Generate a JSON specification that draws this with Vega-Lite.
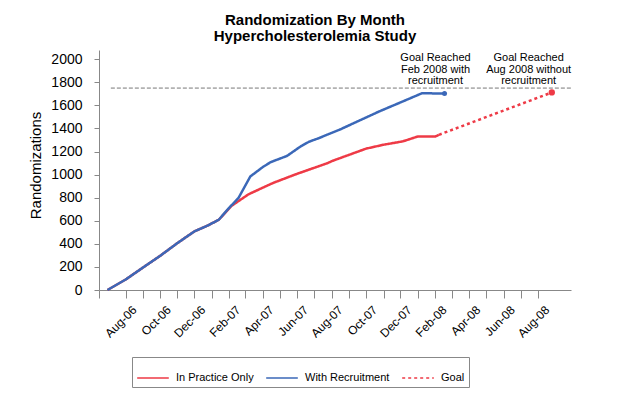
{
  "$schema": "https://vega.github.io/schema/vega-lite/v6.json",
  "width": 472,
  "height": 240,
  "autosize": "none",
  "padding": {"left": 99, "top": 50, "right": 60, "bottom": 105},
  "background": "white",
  "config": {
    "view": {"stroke": null},
    "font": "Liberation Sans"
  },
  "title": {
    "text": ["Randomization By Month", "Hypercholesterolemia Study"],
    "fontSize": 15,
    "fontWeight": "bold",
    "font": "Liberation Sans",
    "color": "black",
    "anchor": "middle",
    "frame": "group",
    "dx": -20,
    "offset": -9,
    "baseline": "bottom",
    "lineHeight": 16
  },
  "datasets": {
    "series": [
      {"series": "With Recruitment", "date": "2006-06-30", "value": 0},
      {"series": "With Recruitment", "date": "2006-08-01", "value": 90},
      {"series": "With Recruitment", "date": "2006-09-01", "value": 195},
      {"series": "With Recruitment", "date": "2006-10-01", "value": 295},
      {"series": "With Recruitment", "date": "2006-11-01", "value": 407},
      {"series": "With Recruitment", "date": "2006-12-01", "value": 508},
      {"series": "With Recruitment", "date": "2006-12-23", "value": 555},
      {"series": "With Recruitment", "date": "2007-01-13", "value": 608},
      {"series": "With Recruitment", "date": "2007-02-01", "value": 715},
      {"series": "With Recruitment", "date": "2007-02-17", "value": 797},
      {"series": "With Recruitment", "date": "2007-03-10", "value": 984},
      {"series": "With Recruitment", "date": "2007-04-01", "value": 1065},
      {"series": "With Recruitment", "date": "2007-04-15", "value": 1108},
      {"series": "With Recruitment", "date": "2007-05-14", "value": 1162},
      {"series": "With Recruitment", "date": "2007-06-07", "value": 1244},
      {"series": "With Recruitment", "date": "2007-06-22", "value": 1285},
      {"series": "With Recruitment", "date": "2007-07-10", "value": 1317},
      {"series": "With Recruitment", "date": "2007-07-24", "value": 1346},
      {"series": "With Recruitment", "date": "2007-08-15", "value": 1389},
      {"series": "With Recruitment", "date": "2007-10-24", "value": 1547},
      {"series": "With Recruitment", "date": "2007-12-05", "value": 1634},
      {"series": "With Recruitment", "date": "2008-01-08", "value": 1705},
      {"series": "With Recruitment", "date": "2008-02-17", "value": 1703},
      {"series": "In Practice Only", "date": "2006-06-30", "value": 0},
      {"series": "In Practice Only", "date": "2006-08-01", "value": 90},
      {"series": "In Practice Only", "date": "2006-09-01", "value": 195},
      {"series": "In Practice Only", "date": "2006-10-01", "value": 295},
      {"series": "In Practice Only", "date": "2006-11-01", "value": 407},
      {"series": "In Practice Only", "date": "2006-12-01", "value": 508},
      {"series": "In Practice Only", "date": "2006-12-23", "value": 555},
      {"series": "In Practice Only", "date": "2007-01-13", "value": 608},
      {"series": "In Practice Only", "date": "2007-02-05", "value": 730},
      {"series": "In Practice Only", "date": "2007-03-07", "value": 830},
      {"series": "In Practice Only", "date": "2007-04-19", "value": 927},
      {"series": "In Practice Only", "date": "2007-05-28", "value": 1000},
      {"series": "In Practice Only", "date": "2007-06-05", "value": 1014},
      {"series": "In Practice Only", "date": "2007-07-25", "value": 1100},
      {"series": "In Practice Only", "date": "2007-08-03", "value": 1120},
      {"series": "In Practice Only", "date": "2007-10-01", "value": 1225},
      {"series": "In Practice Only", "date": "2007-11-01", "value": 1259},
      {"series": "In Practice Only", "date": "2007-12-05", "value": 1288},
      {"series": "In Practice Only", "date": "2008-01-01", "value": 1331},
      {"series": "In Practice Only", "date": "2008-02-01", "value": 1331},
      {"series": "In Practice Only", "date": "2008-02-07", "value": 1345},
      {"series": "Goal", "date": "2008-02-07", "value": 1345},
      {"series": "Goal", "date": "2008-08-25", "value": 1712}
    ],
    "goal": [
      {"date": "2006-07-06", "value": 1750},
      {"date": "2008-09-28", "value": 1750}
    ],
    "ends": [
      {"series": "With Recruitment", "date": "2008-02-17", "value": 1703},
      {"series": "Goal", "date": "2008-08-25", "value": 1712}
    ],
    "notes": [
      {"date": "2008-02-01", "value": 1750, "note": "Goal Reached\nFeb 2008 with\nrecruitment"},
      {"date": "2008-07-15", "value": 1750, "note": "Goal Reached\nAug 2008 without\nrecruitment"}
    ]
  },
  "encoding": {
    "x": {
      "field": "date",
      "type": "temporal",
      "scale": {
        "type": "utc",
        "domain": [
          {"year": 2006, "month": 6, "date": 15, "utc": true},
          {"year": 2008, "month": 9, "date": 28, "utc": true}
        ]
      },
      "axis": {
        "title": null,
        "grid": false,
        "values": [
          {"year": 2006, "month": 6, "date": 15, "utc": true},
          {"year": 2006, "month": 8, "date": 1, "utc": true},
          {"year": 2006, "month": 9, "date": 1, "utc": true},
          {"year": 2006, "month": 10, "date": 1, "utc": true},
          {"year": 2006, "month": 11, "date": 1, "utc": true},
          {"year": 2006, "month": 12, "date": 1, "utc": true},
          {"year": 2007, "month": 1, "date": 1, "utc": true},
          {"year": 2007, "month": 2, "date": 1, "utc": true},
          {"year": 2007, "month": 3, "date": 1, "utc": true},
          {"year": 2007, "month": 4, "date": 1, "utc": true},
          {"year": 2007, "month": 5, "date": 1, "utc": true},
          {"year": 2007, "month": 6, "date": 1, "utc": true},
          {"year": 2007, "month": 7, "date": 1, "utc": true},
          {"year": 2007, "month": 8, "date": 1, "utc": true},
          {"year": 2007, "month": 9, "date": 1, "utc": true},
          {"year": 2007, "month": 10, "date": 1, "utc": true},
          {"year": 2007, "month": 11, "date": 1, "utc": true},
          {"year": 2007, "month": 12, "date": 1, "utc": true},
          {"year": 2008, "month": 1, "date": 1, "utc": true},
          {"year": 2008, "month": 2, "date": 1, "utc": true},
          {"year": 2008, "month": 3, "date": 1, "utc": true},
          {"year": 2008, "month": 4, "date": 1, "utc": true},
          {"year": 2008, "month": 5, "date": 1, "utc": true},
          {"year": 2008, "month": 6, "date": 1, "utc": true},
          {"year": 2008, "month": 7, "date": 1, "utc": true},
          {"year": 2008, "month": 8, "date": 1, "utc": true}
        ],
        "labelExpr": "utcdate(datum.value) == 1 && utcmonth(datum.value) % 2 == 1 ? utcFormat(datum.value, '%b-%y') : ''",
        "labelAngle": -45,
        "labelFontSize": 12,
        "labelColor": "black",
        "labelPadding": 6,
        "labelOffset": 5,
        "labelOverlap": false,
        "labelFlush": false,
        "domainColor": "#888888",
        "tickColor": "#888888",
        "tickSize": 8,
        "domainWidth": 1,
        "tickWidth": 1
      }
    },
    "y": {
      "field": "value",
      "type": "quantitative",
      "scale": {"domain": [0, 2080], "nice": false, "zero": true},
      "axis": {
        "title": "Randomizations",
        "titleFontSize": 15,
        "titleFontWeight": "normal",
        "titleColor": "black",
        "titleX": -64,
        "titleY": 115,
        "titleAngle": -90,
        "titleAlign": "center",
        "titleBaseline": "middle",
        "values": [0, 200, 400, 600, 800, 1000, 1200, 1400, 1600, 1800, 2000],
        "format": "d",
        "grid": false,
        "labelFontSize": 14,
        "labelColor": "black",
        "labelPadding": 12,
        "domainColor": "#888888",
        "tickColor": "#888888",
        "tickSize": 5
      }
    }
  },
  "layer": [
    {
      "data": {"name": "goal"},
      "mark": {"type": "line", "color": "#777777", "strokeWidth": 1, "strokeDash": [4, 2]}
    },
    {
      "data": {"name": "series"},
      "transform": [{"filter": "datum.series == 'In Practice Only'"}],
      "mark": {"type": "line", "strokeWidth": 2.5},
      "encoding": {
        "color": {"field": "series", "type": "nominal",
          "scale": {"domain": ["In Practice Only", "With Recruitment", "Goal"], "range": ["#ee3a46", "#3b68b8", "#ee3a46"]},
          "legend": {
            "title": null,
            "orient": "none",
            "legendX": 33,
            "legendY": 307,
            "direction": "horizontal",
            "strokeColor": "#888888",
            "padding": 4,
            "symbolType": "stroke",
            "symbolSize": 1000,
            "symbolStrokeWidth": 1.5,
            "labelFontSize": 11,
            "labelColor": "black",
            "labelOffset": 6,
            "columnPadding": 9
          }
        },
        "strokeDash": {"field": "series", "type": "nominal",
          "scale": {"domain": ["In Practice Only", "With Recruitment", "Goal"], "range": [[1, 0], [1, 0], [3, 3]]},
          "legend": {
            "title": null,
            "orient": "none",
            "legendX": 33,
            "legendY": 307,
            "direction": "horizontal",
            "strokeColor": "#888888",
            "padding": 4,
            "symbolType": "stroke",
            "symbolSize": 1000,
            "symbolStrokeWidth": 1.5,
            "labelFontSize": 11,
            "labelColor": "black",
            "labelOffset": 6,
            "columnPadding": 9
          }
        }
      }
    },
    {
      "data": {"name": "series"},
      "transform": [{"filter": "datum.series == 'Goal'"}],
      "mark": {"type": "line", "strokeWidth": 2.5},
      "encoding": {
        "color": {"field": "series", "type": "nominal"},
        "strokeDash": {"field": "series", "type": "nominal"}
      }
    },
    {
      "data": {"name": "series"},
      "transform": [{"filter": "datum.series == 'With Recruitment'"}],
      "mark": {"type": "line", "strokeWidth": 2.5},
      "encoding": {
        "color": {"field": "series", "type": "nominal"},
        "strokeDash": {"field": "series", "type": "nominal"}
      }
    },
    {
      "data": {"name": "ends"},
      "transform": [{"filter": "datum.series == 'With Recruitment'"}],
      "mark": {"type": "point", "filled": true, "opacity": 1, "size": 25, "color": "#3b68b8"}
    },
    {
      "data": {"name": "ends"},
      "transform": [{"filter": "datum.series == 'Goal'"}],
      "mark": {"type": "point", "filled": true, "opacity": 1, "size": 40, "color": "#ee3a46"}
    },
    {
      "data": {"name": "notes"},
      "mark": {"type": "text", "fontSize": 11, "lineBreak": "\n", "lineHeight": 11.7, "align": "center", "baseline": "bottom", "dy": -25, "color": "black"},
      "encoding": {"text": {"field": "note"}}
    }
  ]
}
